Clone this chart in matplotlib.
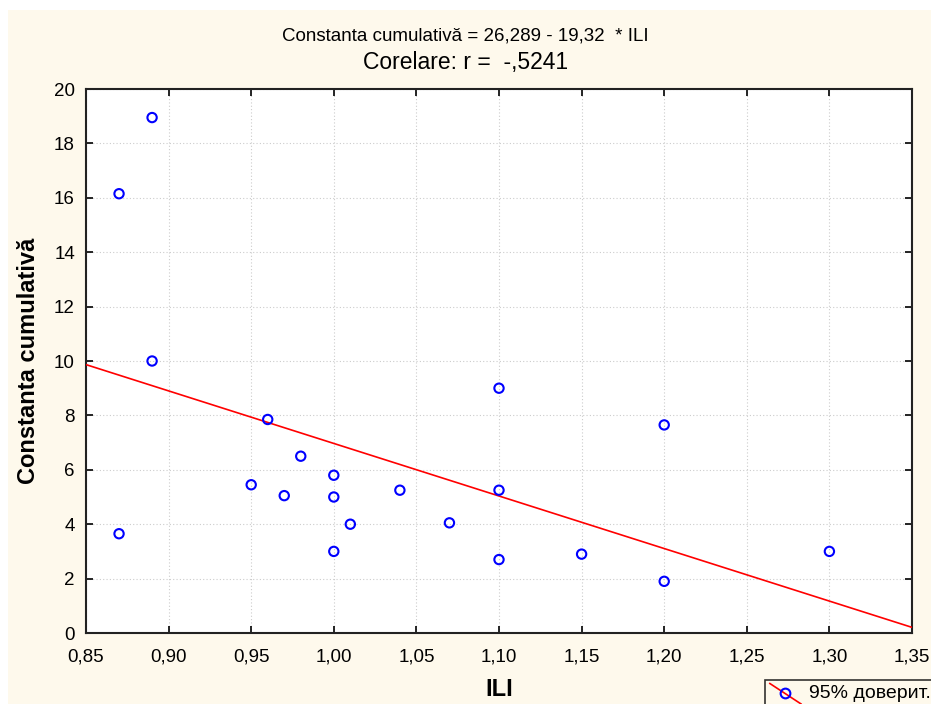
import matplotlib
matplotlib.use("Agg")
import matplotlib.pyplot as plt
import numpy as np
from matplotlib.lines import Line2D
from matplotlib.legend_handler import HandlerBase
from matplotlib.patches import Rectangle

plt.rcParams['font.family'] = ['Liberation Sans', 'DejaVu Sans']

# Data
ili = [0.87, 0.89, 0.89, 0.87, 0.96, 0.98, 0.95, 0.97, 1.00, 1.00, 1.00,
       1.01, 1.04, 1.07, 1.10, 1.10, 1.10, 1.15, 1.20, 1.20, 1.30]
constanta = [16.15, 18.95, 10.0, 3.65, 7.85, 6.5, 5.45, 5.05, 5.8, 5.0, 3.0,
             4.0, 5.25, 4.05, 9.0, 5.25, 2.7, 2.9, 7.65, 1.9, 3.0]
intercept = 26.289
slope = -19.32
x_ticks = [0.85, 0.90, 0.95, 1.00, 1.05, 1.10, 1.15, 1.20, 1.25, 1.30, 1.35]
x_tick_labels = ['0,85', '0,90', '0,95', '1,00', '1,05', '1,10', '1,15', '1,20', '1,25', '1,30', '1,35']
y_ticks = [0, 2, 4, 6, 8, 10, 12, 14, 16, 18, 20]

W, H = 931, 704
fig = plt.figure(figsize=(W / 100, H / 100), dpi=100, facecolor='white')
cream = '#FEF9EC'
fig.patches.append(Rectangle((8 / W, 0), 1 - 8 / W, 1 - 10 / H, transform=fig.transFigure,
                             facecolor=cream, edgecolor='none', zorder=-10))

ax = fig.add_axes([86 / W, 1 - 633 / H, (912 - 86) / W, (633 - 89) / H])
ax.set_facecolor('white')

ax.set_xlim(0.85, 1.35)
ax.set_ylim(0, 20)
ax.set_xticks(x_ticks)
ax.set_xticklabels(x_tick_labels)
ax.set_yticks(y_ticks)
ax.grid(True, linestyle=(0, (1, 2)), color='#cccccc', linewidth=0.8)
ax.set_axisbelow(True)

ax.tick_params(direction='in', top=True, right=True, length=5, width=1.2,
               labelsize=13.5, colors='black')
ax.tick_params(axis='x', pad=11)
ax.tick_params(axis='y', pad=8)
for s in ax.spines.values():
    s.set_linewidth(1.5)
    s.set_color('#222222')

xl = np.array([0.85, 1.35])
ax.plot(xl, intercept + slope * xl, color='#ff0000', linewidth=1.2, zorder=3)
ax.scatter(ili, constanta, s=45, facecolors='none', edgecolors='#0000ff',
           linewidths=1.5, zorder=4, clip_on=False)

fig.text(0.5, 1 - 36 / H, 'Constanta cumulativă = 26,289 - 19,32  * ILI',
         ha='center', va='center', fontsize=13.5)
fig.text(0.5, 1 - 63 / H, 'Corelare: r =  -,5241', ha='center', va='center', fontsize=16.5)

ax.set_xlabel('ILI', fontsize=17, fontweight='bold', labelpad=9)
ax.set_ylabel('Constanta cumulativă', fontsize=17, fontweight='bold', labelpad=10)


class HandlerDiag(HandlerBase):
    def create_artists(self, legend, orig_handle, xdescent, ydescent, width, height, fontsize, trans):
        l = Line2D([-xdescent, width - xdescent], [height * 1.1 - ydescent, -height * 0.4 - ydescent],
                   color='#ff0000', linewidth=1.2, transform=trans)
        m = Line2D([width * 0.5 - xdescent], [height * 0.4 - ydescent], marker='o', markersize=7,
                   markerfacecolor='none', markeredgecolor='#0000ff', markeredgewidth=1.5,
                   linestyle='none', transform=trans)
        return [l, m]


h = Line2D([], [])
leg = fig.legend([h], ['95% доверит.'], handler_map={Line2D: HandlerDiag()},
                 loc='upper left', bbox_to_anchor=(765 / W, 1 - 680 / H),
                 frameon=True, fancybox=False, fontsize=14, handlelength=1.6,
                 borderpad=0.25, handletextpad=0.4, borderaxespad=0)
leg.get_frame().set_edgecolor('black')
leg.get_frame().set_linewidth(1.2)
leg.get_frame().set_facecolor(cream)

fig.savefig('out.png', dpi=100, facecolor=fig.get_facecolor())
